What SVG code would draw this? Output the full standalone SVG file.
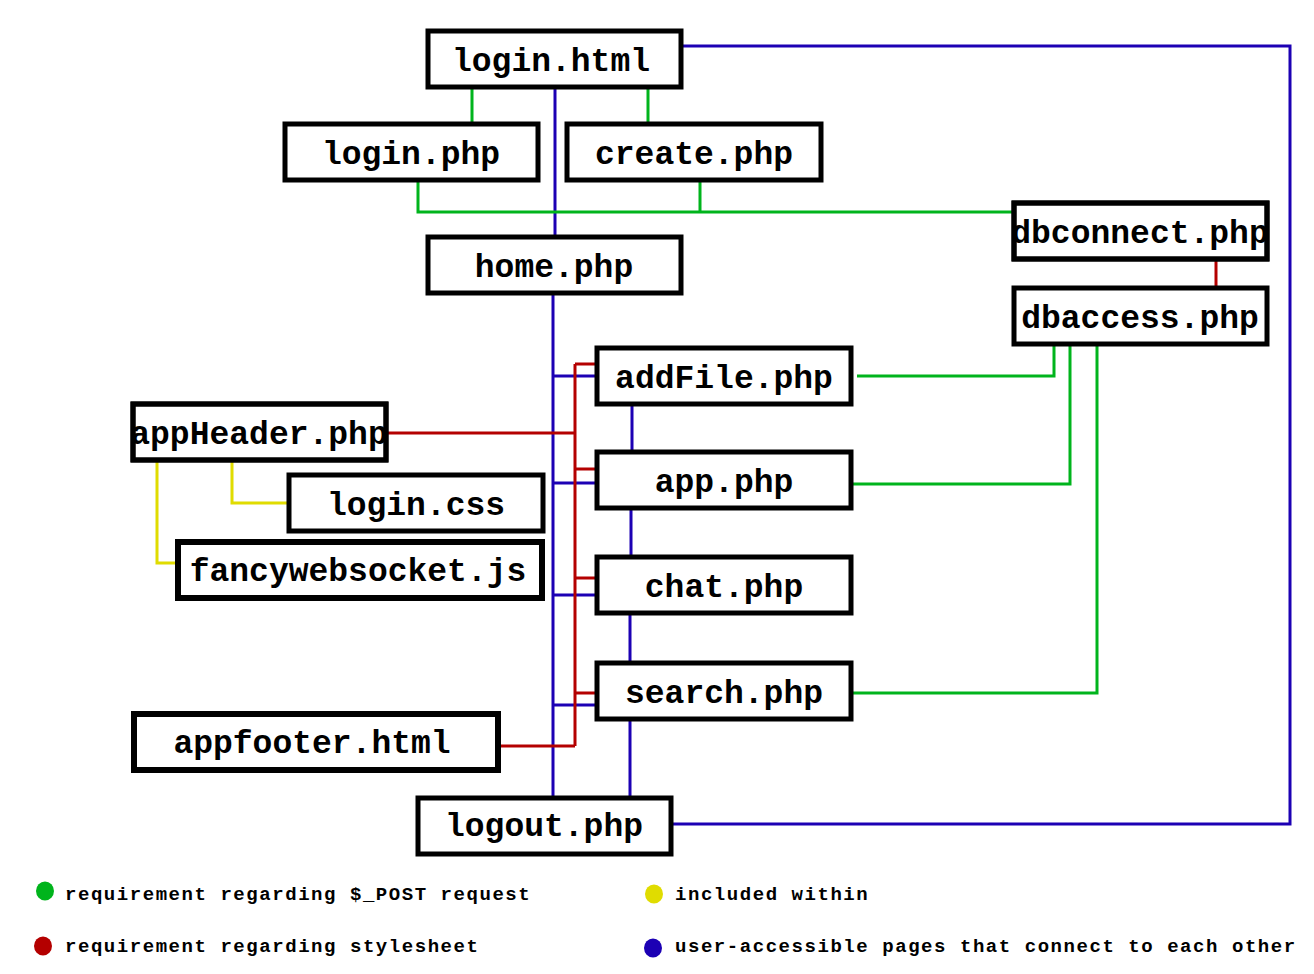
<svg xmlns="http://www.w3.org/2000/svg" width="1314" height="974" viewBox="0 0 1314 974">
<style>
.box{fill:#fff;stroke:#000;stroke-width:5}
.bs{fill:none;stroke:#000;stroke-width:5}
.lbl{font-family:"Liberation Mono","Courier New",monospace;font-weight:bold;font-size:33px;text-anchor:middle;fill:#000}
.leg{font-family:"Liberation Mono","Courier New",monospace;font-weight:bold;font-size:19px;letter-spacing:1.55px;fill:#000}
.c{fill:none;stroke-width:3}
.b{stroke:#1c00b4}
.g{stroke:#00b41c}
.r{stroke:#b40000}
.y{stroke:#e0dc00}
</style>
<defs>
<clipPath id="cpDbc"><rect x="1014" y="203" width="253" height="56"/></clipPath>
<clipPath id="cpHdr"><rect x="133" y="404" width="253" height="56"/></clipPath>
</defs>
<rect width="1314" height="974" fill="#fff"/>
<g id="connectors">
<path class="c b" d="M683,46 H1290 V824 H673"/>
<path class="c b" d="M555,87 V237"/>
<path class="c b" d="M553,293 V798"/>
<path class="c b" d="M553,376 H597 M553,483 H597 M553,595 H597 M553,705 H597"/>
<path class="c b" d="M632,404 V452 M631,508 V557 M630,613 V663 M630,719 V798"/>
<path class="c r" d="M575,364 V746"/>
<path class="c r" d="M575,364 H597 M575,469 H597 M575,578 H597 M575,693 H597"/>
<path class="c r" d="M388,433 H575 M500,746 H575"/>
<path class="c r" d="M1216,259 V288"/>
<path class="c g" d="M472,87 V124 M648,87 V124"/>
<path class="c g" d="M418,180 V212 H1014 M700,180 V212"/>
<path class="c g" d="M857,376 H1054 V344"/>
<path class="c g" d="M853,484 H1070 V340"/>
<path class="c g" d="M853,693 H1097 V344"/>
<path class="c y" d="M232,460 V503 H289"/>
<path class="c y" d="M157,460 V563 H178"/>
</g>
<g id="n_login_html"><rect class="box" x="428" y="31" width="253" height="56"/><text class="lbl" x="551" y="71">login.html</text></g>
<g id="n_login_php"><rect class="box" x="285" y="124" width="253" height="56"/><text class="lbl" x="411" y="164">login.php</text></g>
<g id="n_create_php"><rect class="box" x="567" y="124" width="254" height="56"/><text class="lbl" x="694" y="164">create.php</text></g>
<g id="n_home_php"><rect class="box" x="428" y="237" width="253" height="56"/><text class="lbl" x="554" y="277">home.php</text></g>
<g id="n_dbconnect_php"><rect class="box" x="1014" y="203" width="253" height="56"/><text class="lbl" x="1140" y="243" clip-path="url(#cpDbc)">dbconnect.php</text><rect class="bs" x="1014" y="203" width="253" height="56"/></g>
<g id="n_dbaccess_php"><rect class="box" x="1014" y="288" width="253" height="56"/><text class="lbl" x="1140" y="328">dbaccess.php</text></g>
<g id="n_addFile_php"><rect class="box" x="597" y="348" width="254" height="56"/><text class="lbl" x="724" y="388">addFile.php</text></g>
<g id="n_appHeader_php"><rect class="box" x="133" y="404" width="253" height="56"/><text class="lbl" x="259" y="444" clip-path="url(#cpHdr)">appHeader.php</text><rect class="bs" x="133" y="404" width="253" height="56"/></g>
<g id="n_app_php"><rect class="box" x="597" y="452" width="254" height="56"/><text class="lbl" x="724" y="492">app.php</text></g>
<g id="n_login_css"><rect class="box" x="289" y="475" width="254" height="56"/><text class="lbl" x="416" y="515">login.css</text></g>
<g id="n_fancywebsocket_js"><rect class="box" x="178" y="542" width="364" height="56" style="stroke-width:6"/><text class="lbl" x="358" y="581">fancywebsocket.js</text></g>
<g id="n_chat_php"><rect class="box" x="597" y="557" width="254" height="56"/><text class="lbl" x="724" y="597">chat.php</text></g>
<g id="n_search_php"><rect class="box" x="597" y="663" width="254" height="56"/><text class="lbl" x="724" y="703">search.php</text></g>
<g id="n_appfooter_html"><rect class="box" x="134" y="714" width="364" height="56" style="stroke-width:6"/><text class="lbl" x="312" y="753">appfooter.html</text></g>
<g id="n_logout_php"><rect class="box" x="418" y="798" width="253" height="56"/><text class="lbl" x="544" y="836">logout.php</text></g>
<g id="legend">
<ellipse cx="45" cy="891" rx="9" ry="9.5" fill="#00b41c"/>
<text class="leg" x="65" y="900">requirement regarding $_POST request</text>
<ellipse cx="43" cy="946" rx="9" ry="9.5" fill="#b40000"/>
<text class="leg" x="65" y="952">requirement regarding stylesheet</text>
<ellipse cx="654" cy="894" rx="9" ry="9.5" fill="#e0dc00"/>
<text class="leg" x="675" y="900">included within</text>
<ellipse cx="653" cy="948" rx="9" ry="9.5" fill="#1c00b4"/>
<text class="leg" x="675" y="952">user-accessible pages that connect to each other</text>
</g>
</svg>
